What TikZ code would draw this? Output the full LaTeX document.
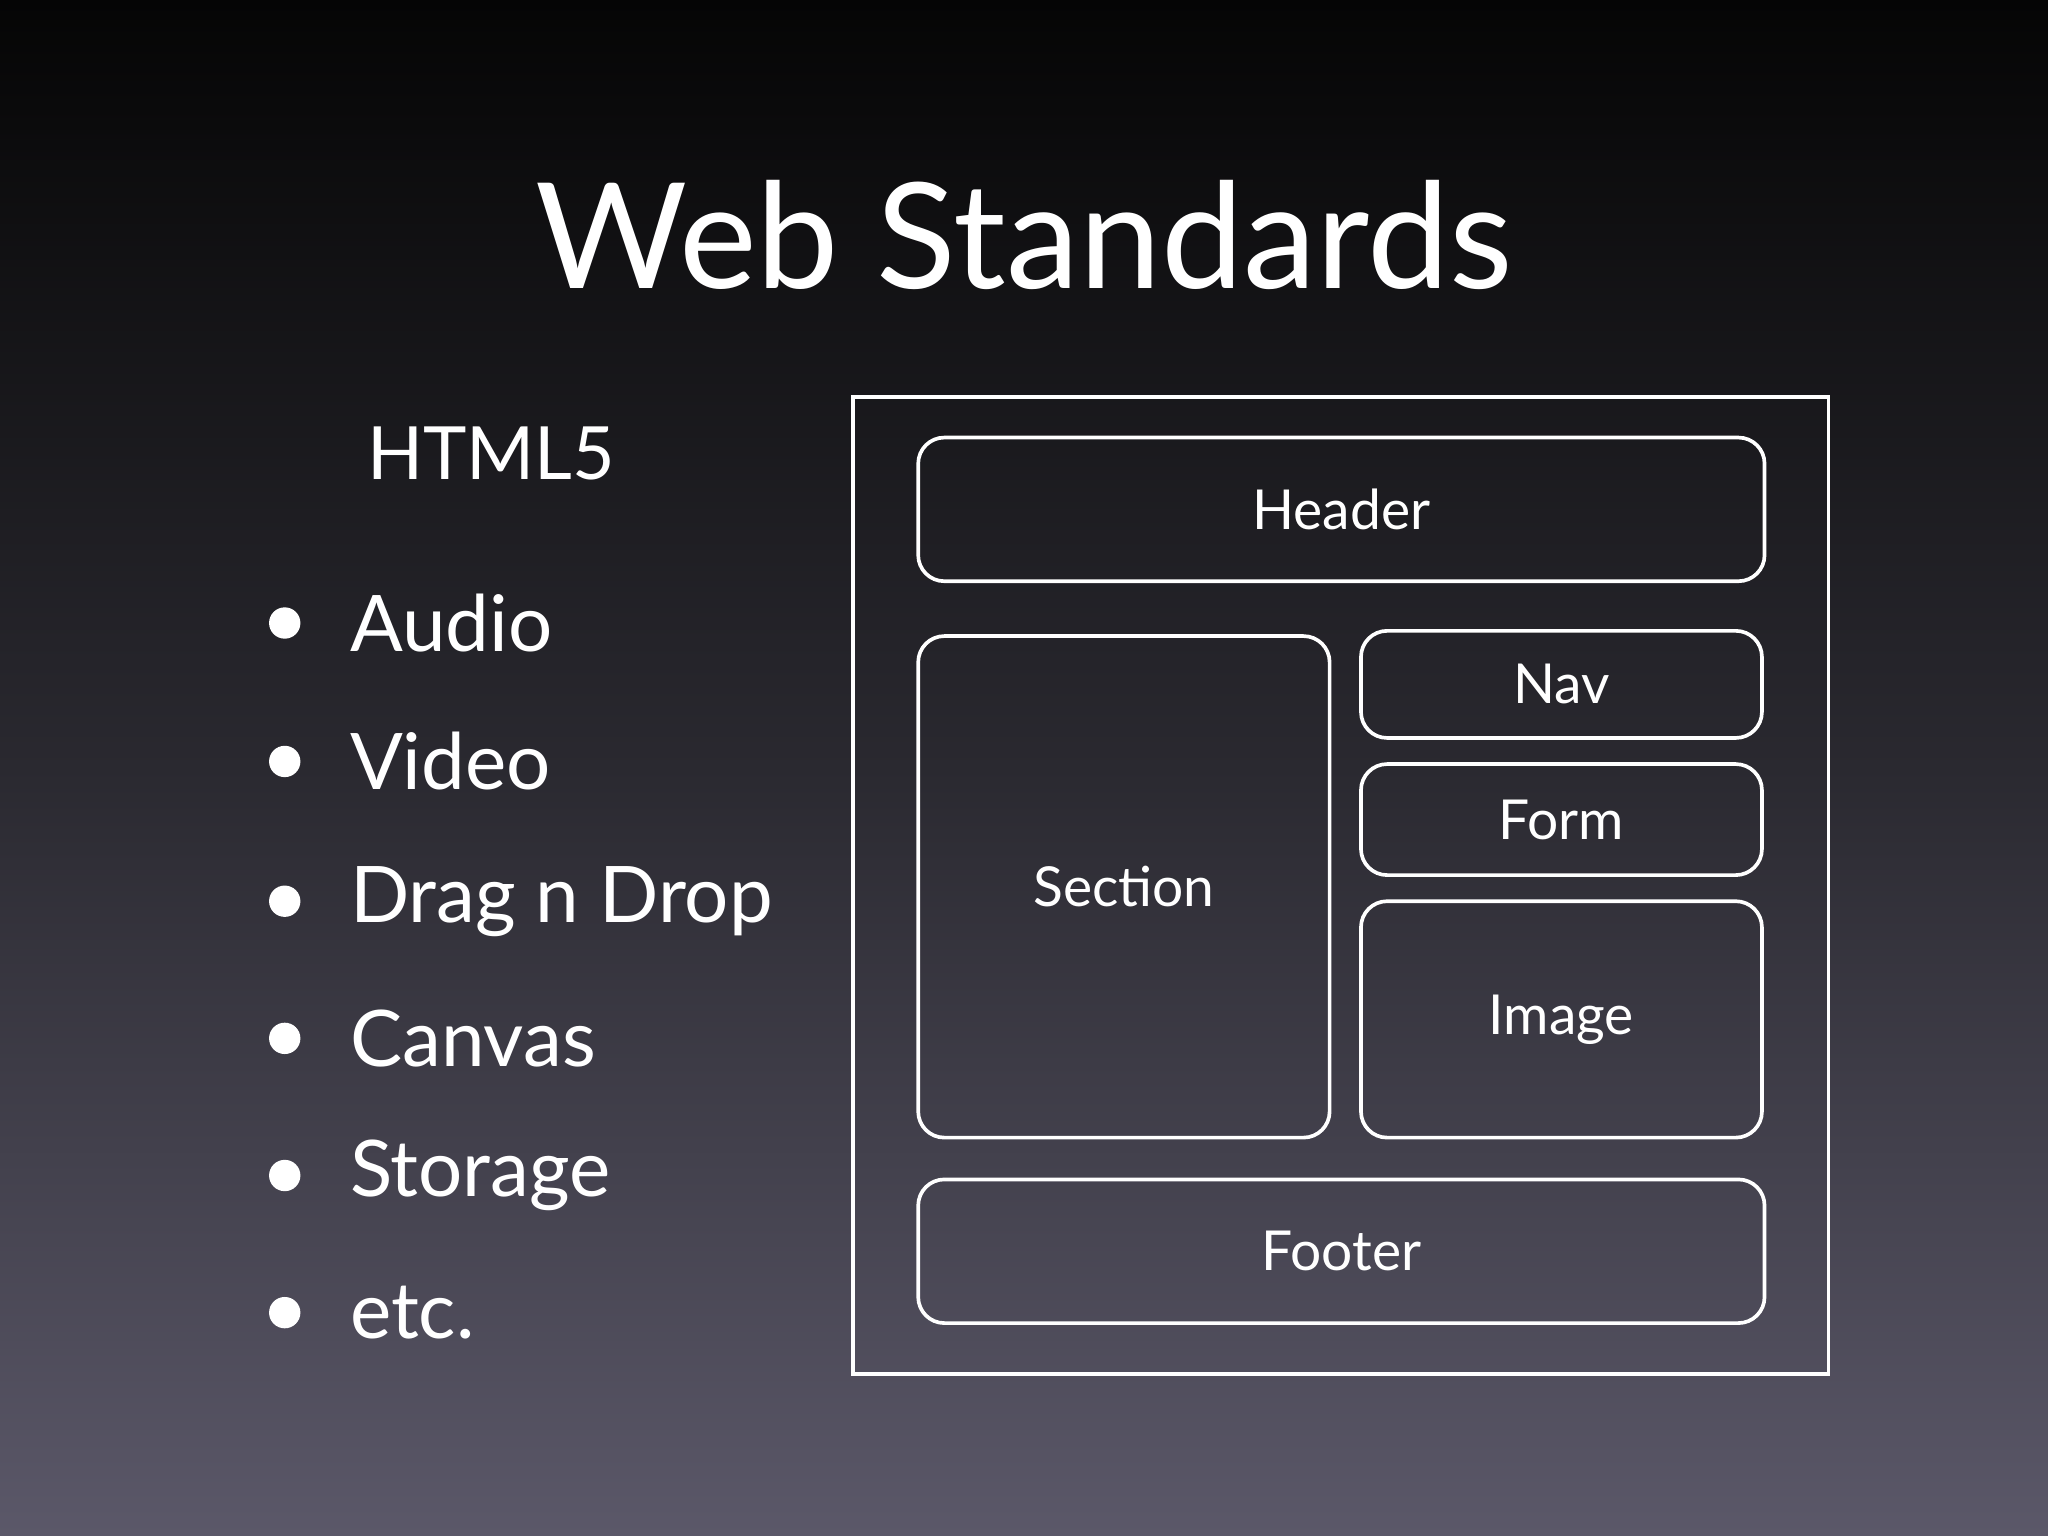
\documentclass[tikz,border=0pt]{standalone}
\usepackage{fontspec}
\setmainfont{Lato}
\usetikzlibrary{positioning}
\definecolor{slidetop}{HTML}{050505}
\definecolor{slidemid}{HTML}{2A2930}
\definecolor{slidebot}{HTML}{5B5869}

\begin{document}
\begin{tikzpicture}[x=0.01cm,y=-0.01cm,semithick,
                    part/.style={draw=white,line width=0.8pt,rounded corners=0.2cm,
                                 text=white,font=\fontsize{12}{14}\selectfont},
                    item/.style={text=white,anchor=west,inner sep=0pt,font=\fontsize{17}{20}\selectfont}]
  \shade[top color=slidetop,bottom color=slidebot,middle color=slidemid]
    (0,0) rectangle (1568,1176);
  \useasboundingbox (0,0) rectangle (1568,1176);

  \node[text=white,font=\fontsize{32}{36}\selectfont] (title) at (784,180) {Web Standards};
  \node[text=white,anchor=west,inner sep=0pt,font=\fontsize{16}{20}\selectfont] (html) at (280,347) {HTML5};

  \foreach \name/\txt/\yy in {audio/Audio/477,video/Video/583,drag/Drag n Drop/690,
                              canvas/Canvas/795,storage/Storage/900,etc/etc./1005}
  {
    \fill[white] (218,\yy) circle (12);
    \node[item] (\name) at (267,\yy) {\txt};
  }

  \draw[white,line width=0.8pt] (653,304) rectangle (1400,1052);

  \draw[part] (703,335) rectangle (1351,445) node[midway] (header) {Header};
  \draw[part] (703,487) rectangle (1018,871) node[midway] (section) {Section};
  \draw[part] (1042,483) rectangle (1349,565) node[midway] (nav) {Nav};
  \draw[part] (1042,585) rectangle (1349,670) node[midway] (form) {Form};
  \draw[part] (1042,690) rectangle (1349,871) node[midway] (image) {Image};
  \draw[part] (703,903) rectangle (1351,1013) node[midway] (footer) {Footer};
\end{tikzpicture}
\end{document}
